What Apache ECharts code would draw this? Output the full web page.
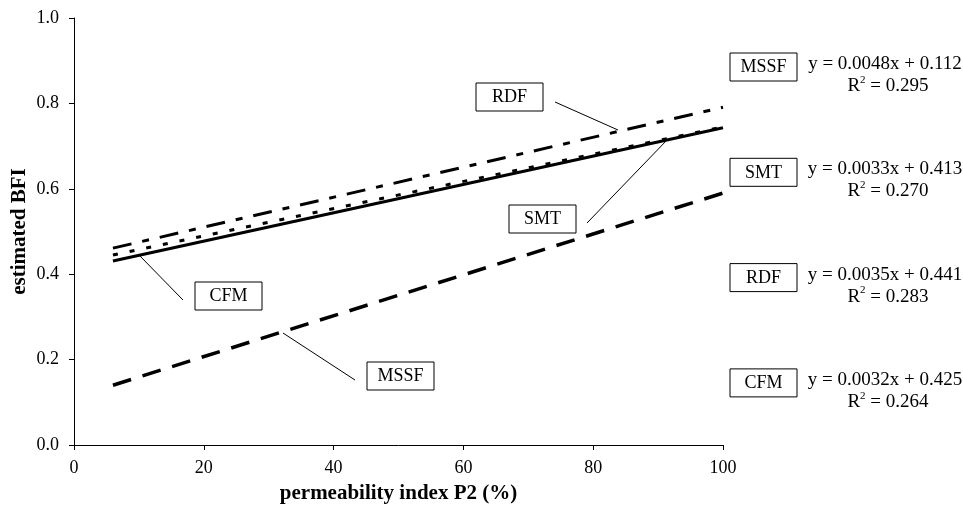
<!DOCTYPE html>
<html>
<head>
<meta charset="utf-8">
<title>estimated BFI vs permeability index</title>
<script src="https://cdn.jsdelivr.net/npm/echarts@6/dist/echarts.min.js"></script>
<style>
  html, body { margin: 0; padding: 0; background: #fff; }
  #chart { width: 963px; height: 508px; }
</style>
</head>
<body>
<div id="chart"></div>
<script>
// x range of the fitted lines (permeability index P2, %)
var xEnds = [6, 100];
// estimated BFI at both ends
var mssfVals = [0.14, 0.59];
var smtVals = [0.431, 0.743];
var cfmVals = [0.445, 0.745];
var rdfVals = [0.461, 0.791];

var xTicks = [0, 20, 40, 60, 80, 100];
var yTicks = [0.0, 0.2, 0.4, 0.6, 0.8, 1.0];

// regression text on the right
var fitNames = ["MSSF", "SMT", "RDF", "CFM"];
var fitEqs = ["y = 0.0048x + 0.112", "y = 0.0033x + 0.413", "y = 0.0035x + 0.441", "y = 0.0032x + 0.425"];
var fitR2 = ["0.295", "0.270", "0.283", "0.264"];

var FONT = '"Liberation Serif", "Times New Roman", serif';

function pairs(vals) {
  return xEnds.map(function (x, i) { return [x, vals[i]]; });
}

// boxed label, left/top in px
function labelBox(text, x, y) {
  return {
    type: "group",
    x: x,
    y: y,
    children: [
      { type: "rect", shape: { x: 0, y: 0, width: 67, height: 28 },
        style: { fill: "#fff", stroke: "#000", lineWidth: 1 } },
      { type: "text", x: 33.5, y: 14.5,
        style: { text: text, font: "18px " + FONT, fill: "#000", align: "center", verticalAlign: "middle" } }
    ]
  };
}

function leader(x1, y1, x2, y2) {
  return { type: "line", shape: { x1: x1, y1: y1, x2: x2, y2: y2 },
    style: { stroke: "#000", lineWidth: 1 } };
}

var graphics = [
  // callouts inside the plot
  leader(555, 102, 618, 130), labelBox("RDF", 476, 83),
  leader(587, 223, 667, 140), labelBox("SMT", 509, 205),
  leader(183, 300, 138, 254), labelBox("CFM", 195, 282),
  leader(355, 380, 283, 333), labelBox("MSSF", 367, 362)
];

// right-hand panel: box + equation + R²
for (var i = 0; i < fitNames.length; i++) {
  var cy = 67 + i * 105.3;
  graphics.push(labelBox(fitNames[i], 730, cy - 14));
  graphics.push({ type: "text", x: 885, y: cy - 3,
    style: { text: fitEqs[i], font: "19px " + FONT, fill: "#000", align: "center", verticalAlign: "middle" } });
  graphics.push({ type: "text", x: 888, y: cy + 19,
    style: {
      text: "{r|R}{s|2}{r| = " + fitR2[i] + "}",
      align: "center", verticalAlign: "middle",
      rich: {
        r: { fontFamily: FONT, fontSize: 19, color: "#000" },
        s: { fontFamily: FONT, fontSize: 11, color: "#000", padding: [0, 0, 12, 0] }
      }
    } });
}

var chart = echarts.init(document.getElementById("chart"), null, { renderer: "canvas" });

var option = {
  animation: false,
  backgroundColor: "#fff",
  grid: { left: 74, right: 240, top: 18, bottom: 63, containLabel: false, outerBoundsMode: "none" },
  xAxis: {
    type: "value",
    min: 0, max: 100, interval: 20,
    name: "permeability index P2 (%)",
    nameLocation: "middle",
    nameGap: 38,
    nameTextStyle: { fontFamily: FONT, fontSize: 21, fontWeight: "bold", color: "#000" },
    axisLine: { show: true, lineStyle: { color: "#000", width: 1 } },
    axisTick: { show: true, inside: false, length: 5, lineStyle: { color: "#000" } },
    axisLabel: { fontFamily: FONT, fontSize: 18, color: "#000", margin: 14,
      formatter: function (v) { return xTicks.indexOf(v) >= 0 ? String(v) : ""; } },
    splitLine: { show: false }
  },
  yAxis: {
    type: "value",
    min: 0, max: 1, interval: 0.2,
    name: "estimated BFI",
    nameLocation: "middle",
    nameRotate: 90,
    nameGap: 44,
    nameMoveOverlap: false,
    nameTextStyle: { fontFamily: FONT, fontSize: 21, fontWeight: "bold", color: "#000" },
    axisLine: { show: true, lineStyle: { color: "#000", width: 1 } },
    axisTick: { show: true, inside: false, length: 5, lineStyle: { color: "#000" } },
    axisLabel: { fontFamily: FONT, fontSize: 18, color: "#000", margin: 15,
      formatter: function (v) { return v.toFixed(1); } },
    splitLine: { show: false }
  },
  series: [
    { name: "MSSF", type: "line", data: pairs(mssfVals), symbol: "none",
      lineStyle: { color: "#000", width: 3.5, type: [19, 12], cap: "butt" } },
    { name: "SMT", type: "line", data: pairs(smtVals), symbol: "none",
      lineStyle: { color: "#000", width: 3, type: "solid" } },
    { name: "CFM", type: "line", data: pairs(cfmVals), symbol: "none",
      lineStyle: { color: "#000", width: 3, type: [5, 12], cap: "butt" } },
    { name: "RDF", type: "line", data: pairs(rdfVals), symbol: "none",
      lineStyle: { color: "#000", width: 3, type: [19, 11, 7, 11], cap: "butt" } }
  ],
  graphic: graphics
};

chart.setOption(option);
</script>
</body>
</html>
